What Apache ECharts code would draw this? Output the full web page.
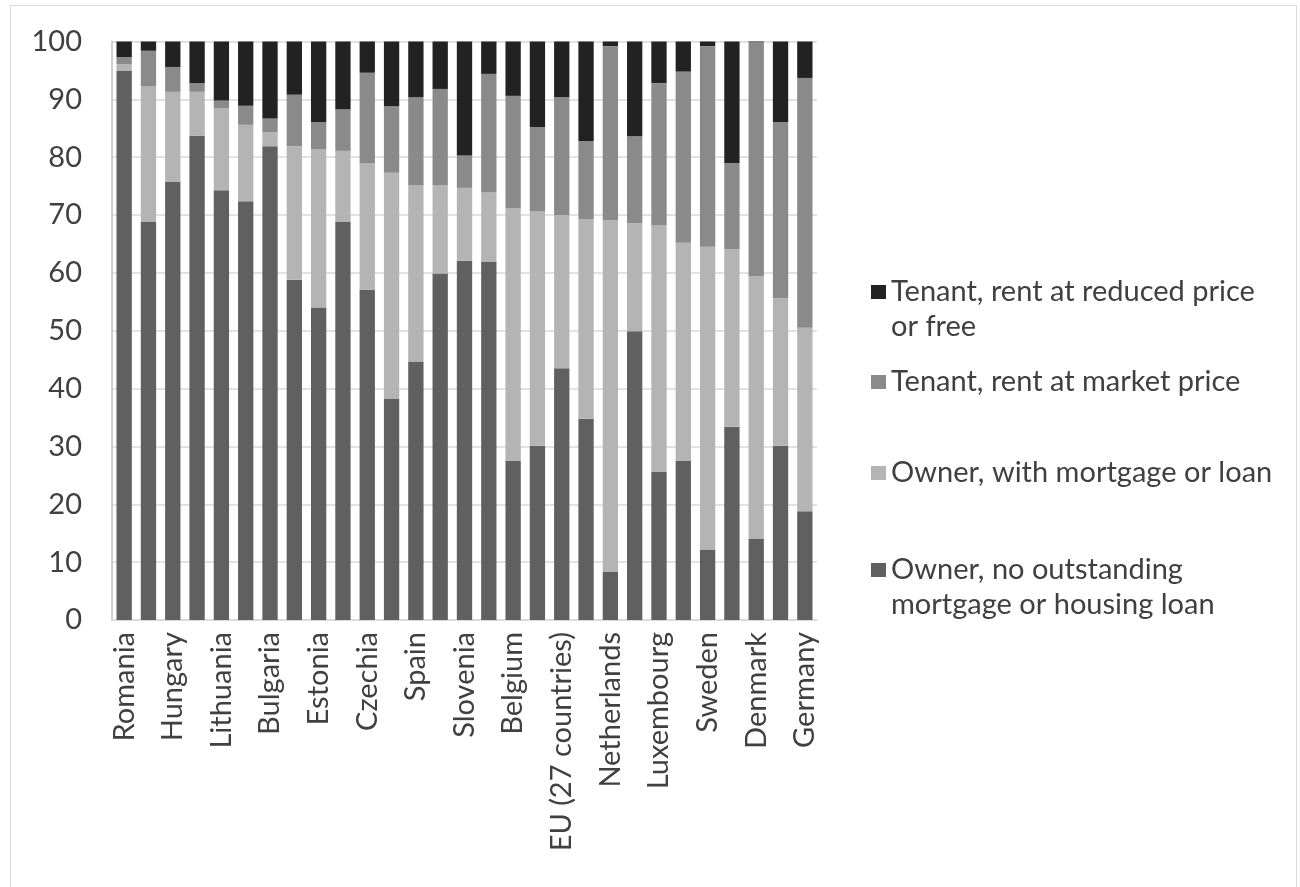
<!DOCTYPE html>
<html>
<head>
<meta charset="utf-8">
<script src="https://cdn.jsdelivr.net/npm/echarts@6/dist/echarts.min.js"></script>
<style>
  html, body { margin: 0; padding: 0; background: #ffffff; }
  #wrap { position: relative; width: 1300px; height: 887px; overflow: hidden; }
  #frame { position: absolute; left: 10px; top: 5px; width: 1287px; height: 900px;
           border: 1px solid #d9d9d9; box-sizing: border-box; }
  #chart { position: absolute; left: 0; top: 0; width: 1300px; height: 887px; }
</style>
</head>
<body>
<div id="wrap">
  <div id="frame"></div>
  <div id="chart"></div>
</div>
<script>
// Housing tenure status by country, % of population
const categories = [
  'Romania', 'Slovakia', 'Hungary', 'Croatia', 'Lithuania', 'Poland', 'Bulgaria',
  'Malta', 'Estonia', 'Latvia', 'Czechia', 'Portugal', 'Spain', 'Greece',
  'Slovenia', 'Italy', 'Belgium', 'Finland', 'EU (27 countries)', 'Ireland',
  'Netherlands', 'Cyprus', 'Luxembourg', 'Euro area', 'Sweden', 'France',
  'Denmark', 'Austria', 'Germany'
];

const ownerNoMortgage = [94.9, 68.9, 75.7, 83.7, 74.3, 72.4, 81.9, 58.8, 54.0, 68.8,
  57.1, 38.3, 44.7, 59.9, 62.1, 61.9, 27.5, 30.1, 43.5, 34.8, 8.3, 49.9, 25.6, 27.5,
  12.2, 33.4, 14.0, 30.1, 18.8];
const ownerMortgage = [1.2, 23.4, 15.6, 7.6, 14.2, 13.2, 2.4, 23.1, 27.4, 12.3,
  21.9, 39.0, 30.4, 15.3, 12.6, 12.0, 43.7, 40.6, 26.5, 34.5, 60.8, 18.7, 42.7, 37.7,
  52.3, 30.7, 45.4, 25.5, 31.7];
const tenantMarket = [1.2, 6.1, 4.3, 1.5, 1.3, 3.3, 2.4, 8.9, 4.7, 7.2,
  15.6, 11.5, 15.3, 16.6, 5.6, 20.5, 19.4, 14.5, 20.4, 13.5, 30.1, 15.0, 24.5, 29.6,
  34.7, 14.9, 40.5, 30.5, 43.2];
const tenantReduced = [2.7, 1.6, 4.4, 7.2, 10.2, 11.1, 13.3, 9.2, 13.9, 11.7,
  5.4, 11.2, 9.6, 8.2, 19.7, 5.6, 9.4, 14.8, 9.6, 17.2, 0.8, 16.4, 7.2, 5.2,
  0.8, 21.0, 0.1, 13.9, 6.3];

const yTicks = { min: 0, max: 100, interval: 10 };

const NAME_NO_MORTGAGE = 'Owner, no outstanding mortgage or housing loan';
const NAME_MORTGAGE = 'Owner, with mortgage or loan';
const NAME_MARKET = 'Tenant, rent at market price';
const NAME_REDUCED = 'Tenant, rent at reduced price or free';

// Wrapped legend text; a blank first line keeps the key square beside the first text line
const legendLines = {};
legendLines[NAME_NO_MORTGAGE] = '\nOwner, no outstanding\nmortgage or housing loan';
legendLines[NAME_MORTGAGE] = 'Owner, with mortgage or loan';
legendLines[NAME_MARKET] = 'Tenant, rent at market price';
legendLines[NAME_REDUCED] = '\nTenant, rent at reduced price\nor free';

const FONT = 'Lato';
const TEXT_COLOR = '#404040';
const FS = 29;
const LINE_H = 35;

function legendFor(name, iconCenterY, twoLines) {
  return {
    data: [name],
    orient: 'vertical',
    left: 866,
    top: iconCenterY - (twoLines ? LINE_H * 1.5 : LINE_H / 2) - 5,
    itemWidth: 15,
    itemHeight: 14,
    itemGap: 0,
    selectedMode: false,
    icon: 'rect',
    formatter: n => legendLines[n],
    textStyle: {
      fontFamily: FONT,
      fontSize: FS,
      lineHeight: LINE_H,
      color: TEXT_COLOR
    }
  };
}

const chart = echarts.init(document.getElementById('chart'), null, { renderer: 'canvas' });

function barSeries(name, data, color) {
  return {
    name: name,
    type: 'bar',
    stack: 'tenure',
    data: data,
    barCategoryGap: '37%',
    itemStyle: { color: color },
    emphasis: { disabled: true }
  };
}

chart.setOption({
  animation: false,
  backgroundColor: 'transparent',
  textStyle: { fontFamily: FONT },
  grid: { left: 112, right: 483, top: 41.5, bottom: 267, containLabel: false },
  legend: [
    legendFor(NAME_REDUCED, 292, true),
    legendFor(NAME_MARKET, 382, false),
    legendFor(NAME_MORTGAGE, 473, false),
    legendFor(NAME_NO_MORTGAGE, 570, true)
  ],
  xAxis: {
    type: 'category',
    data: categories,
    axisLine: { show: true, lineStyle: { color: '#d9d9d9', width: 1.5 } },
    axisTick: { show: false },
    axisLabel: {
      interval: 1,
      rotate: 90,
      margin: 12,
      fontFamily: FONT,
      fontSize: FS,
      color: TEXT_COLOR
    }
  },
  yAxis: {
    type: 'value',
    min: yTicks.min,
    max: yTicks.max,
    interval: yTicks.interval,
    axisLine: { show: true, lineStyle: { color: '#bfbfbf', width: 1.5 } },
    axisTick: { show: false },
    splitLine: { show: true, lineStyle: { color: '#d9d9d9', width: 1.5 } },
    axisLabel: {
      margin: 30,
      fontFamily: FONT,
      fontSize: FS,
      color: TEXT_COLOR
    }
  },
  series: [
    barSeries(NAME_NO_MORTGAGE, ownerNoMortgage, '#606060'),
    barSeries(NAME_MORTGAGE, ownerMortgage, '#b4b4b4'),
    barSeries(NAME_MARKET, tenantMarket, '#8a8a8a'),
    barSeries(NAME_REDUCED, tenantReduced, '#222222')
  ]
});
</script>
</body>
</html>
